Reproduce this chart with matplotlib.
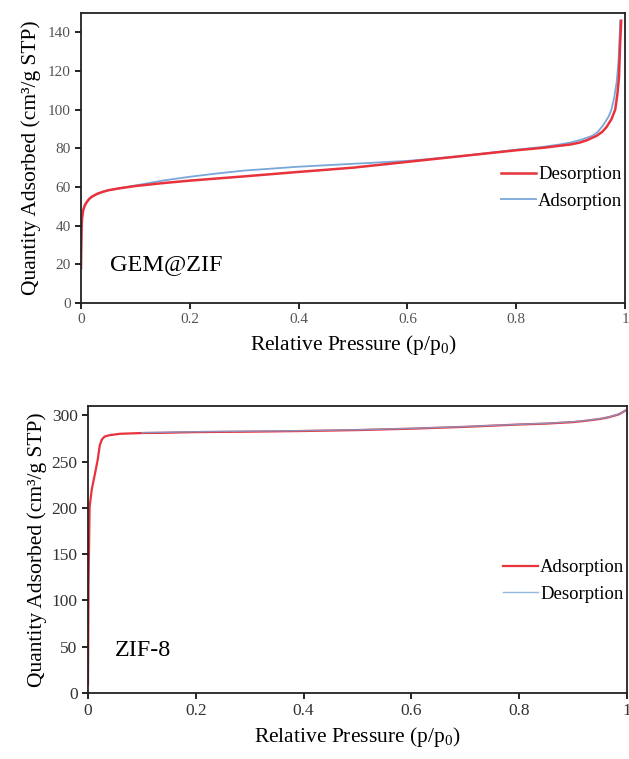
import matplotlib
matplotlib.use("Agg")
import matplotlib.pyplot as plt

plt.rcParams["font.family"] = ["Liberation Serif", "DejaVu Serif"]

# ==========================
# GEM@ZIF isotherm
# ==========================

gem_ads_x = [0, 0.0005, 0.001, 0.002, 0.004, 0.007, 0.01, 0.015, 0.02, 0.03, 0.04, 0.05, 0.07,
             0.1, 0.15, 0.2, 0.25, 0.3, 0.4, 0.5, 0.6, 0.7, 0.8, 0.85, 0.88, 0.9, 0.92,
             0.94, 0.95, 0.96, 0.97, 0.975, 0.98, 0.985, 0.988, 0.9905, 0.991]
gem_ads_y = [18, 30, 38, 44, 48, 50.5, 52, 53.8, 55, 56.5, 57.5, 58.3, 59.3,
             60.8, 63.3, 65.3, 67, 68.5, 70.5, 72, 73.5, 76, 79.3, 80.8, 82, 83, 84.5,
             86.5, 88.5, 92, 96.5, 100, 106, 115, 125, 140, 146]

gem_des_x = [0, 0.0005, 0.001, 0.002, 0.004, 0.007, 0.01, 0.015, 0.02, 0.03, 0.04, 0.05, 0.07,
             0.1, 0.15, 0.2, 0.3, 0.4, 0.5, 0.6, 0.7, 0.8, 0.85, 0.9, 0.917, 0.93,
             0.948, 0.958, 0.966, 0.975, 0.982, 0.986, 0.989, 0.991, 0.993]
gem_des_y = [18, 30, 38, 44, 48, 50.5, 52, 53.8, 55, 56.5, 57.5, 58.3, 59.3,
             60.5, 62, 63.3, 65.5, 67.8, 70, 73, 76, 79, 80.3, 82, 83, 84.2,
             86.5, 88.5, 91, 95, 100, 108, 117, 134, 146]

# ==========================
# ZIF-8 isotherm
# ==========================

zif_ads_x = [0, 0.001, 0.003, 0.007, 0.013, 0.018, 0.022, 0.026, 0.031, 0.04, 0.06, 0.1, 0.133,
             0.2, 0.3, 0.4, 0.5, 0.6, 0.7, 0.8, 0.85, 0.9, 0.923, 0.95, 0.967, 0.985, 1.0]
zif_ads_y = [10, 120, 201, 220, 237, 252, 268, 274, 277, 278.5, 280, 280.8, 281,
             281.8, 282.3, 283, 284, 285.5, 287.5, 290, 291, 292.6, 294, 296, 298, 301, 306]

zif_des_x = [0.1, 0.2, 0.3, 0.4, 0.5, 0.6, 0.7, 0.8, 0.85, 0.9, 0.923, 0.95, 0.967, 0.985, 1.0]
zif_des_y = [281.2, 282.2, 282.8, 283.4, 284.3, 285.8, 287.8, 290.2, 291.3, 292.9, 294.3, 296.3, 298.3, 301.3, 306]

red = "#e8323c"
blue = "#79a7d8"

fig = plt.figure(figsize=(6.29, 7.59), dpi=100)

ax1 = fig.add_axes([81 / 629, 1 - 303 / 759, 544 / 629, 290 / 759])
ax2 = fig.add_axes([88 / 629, 1 - 693 / 759, 539 / 629, 287 / 759])

# top panel
ax1.plot(gem_ads_x, gem_ads_y, color=blue, lw=1.3, label="Adsorption")
ax1.plot(gem_des_x, gem_des_y, color=red, lw=1.8, label="Desorption")
ax1.set_xlim(0, 1)
ax1.set_ylim(0, 150)
ax1.set_xticks([0, 0.2, 0.4, 0.6, 0.8, 1])
ax1.set_xticklabels(["0", "0.2", "0.4", "0.6", "0.8", "1"])
ax1.set_yticks(range(0, 141, 20))
ax1.tick_params(direction="out", length=4, width=1.2, labelsize=11, labelcolor="#555555")
ax1.set_xlabel("Relative Pressure (p/p$_\\mathregular{0}$)", fontsize=15.5, labelpad=5)
ax1.set_ylabel("Quantity Adsorbed (cm³/g STP)", fontsize=15.5, labelpad=5)
ax1.text(0.053, 20, "GEM@ZIF", fontsize=17.5, va="center", ha="left")
h, l = ax1.get_legend_handles_labels()
ax1.legend([h[1], h[0]], [l[1], l[0]], loc="center right", bbox_to_anchor=(0.995, 0.397),
           frameon=False, fontsize=13.5, handlelength=1.9, handletextpad=0.1,
           borderaxespad=0, borderpad=0, labelspacing=0.5)

# bottom panel
ax2.plot(zif_ads_x, zif_ads_y, color=red, lw=1.6, label="Adsorption")
ax2.plot(zif_des_x, zif_des_y, color=blue, lw=1.0, alpha=0.8, label="Desorption")
ax2.set_xlim(0, 1)
ax2.set_ylim(0, 310)
ax2.set_xticks([0, 0.2, 0.4, 0.6, 0.8, 1])
ax2.set_xticklabels(["0", "0.2", "0.4", "0.6", "0.8", "1"])
ax2.set_yticks(range(0, 301, 50))
ax2.tick_params(direction="out", length=4, width=1.2, labelsize=12.5, labelcolor="#333333")
ax2.set_xlabel("Relative Pressure (p/p$_\\mathregular{0}$)", fontsize=15.5, labelpad=4)
ax2.set_ylabel("Quantity Adsorbed (cm³/g STP)", fontsize=15.5, labelpad=3)
ax2.text(0.05, 46, "ZIF-8", fontsize=17.5, va="center", ha="left")
ax2.legend(loc="center right", bbox_to_anchor=(0.995, 0.39),
           frameon=False, fontsize=13.5, handlelength=1.9, handletextpad=0.1,
           borderaxespad=0, borderpad=0, labelspacing=0.5)

for ax in (ax1, ax2):
    for s in ax.spines.values():
        s.set_linewidth(1.3)
        s.set_color("#222222")

fig.savefig("out.png", dpi=100)
